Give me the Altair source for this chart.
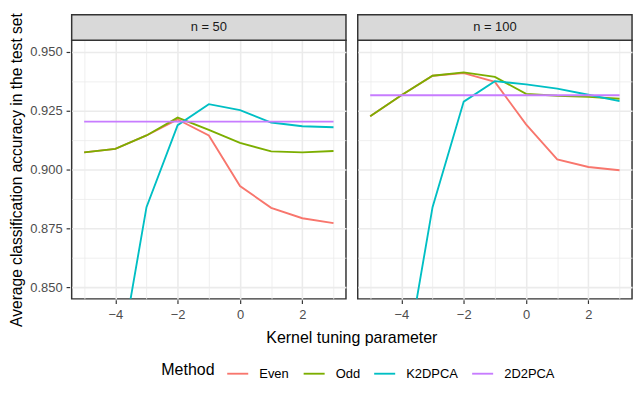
import altair as alt
import pandas as pd

x_vals = [-5, -4, -3, -2, -1, 0, 1, 2, 3]
panels = ["n = 50", "n = 100"]
methods = ["Even", "Odd", "K2DPCA", "2D2PCA"]
colors = ["#F8766D", "#7CAE00", "#00BFC4", "#C77CFF"]

even_50 = [0.9073, 0.9088, 0.9145, 0.9213, 0.9145, 0.8930, 0.8837, 0.8793, 0.8772]
odd_50 = [0.9073, 0.9088, 0.9145, 0.9221, 0.9169, 0.9113, 0.9077, 0.9073, 0.9079]
k2dpca_50 = [0.7000, 0.8075, 0.8840, 0.9189, 0.9278, 0.9253, 0.9200, 0.9184, 0.9180]
pca_50 = [0.9204, 0.9204, 0.9204, 0.9204, 0.9204, 0.9204, 0.9204, 0.9204, 0.9204]

even_100 = [0.9227, 0.9316, 0.9399, 0.9410, 0.9373, 0.9192, 0.9043, 0.9011, 0.8997]
odd_100 = [0.9227, 0.9316, 0.9399, 0.9413, 0.9394, 0.9322, 0.9314, 0.9309, 0.9301]
k2dpca_100 = [0.7000, 0.8068, 0.8840, 0.9289, 0.9376, 0.9362, 0.9344, 0.9318, 0.9291]
pca_100 = [0.9316, 0.9316, 0.9316, 0.9316, 0.9316, 0.9316, 0.9316, 0.9316, 0.9316]

x_ticks = [-5, -4, -3, -2, -1, 0, 1, 2, 3]
y_ticks = [0.85, 0.8625, 0.875, 0.8875, 0.9, 0.9125, 0.925, 0.9375, 0.95]

series = {
    ("n = 50", "Even"): even_50, ("n = 50", "Odd"): odd_50,
    ("n = 50", "K2DPCA"): k2dpca_50, ("n = 50", "2D2PCA"): pca_50,
    ("n = 100", "Even"): even_100, ("n = 100", "Odd"): odd_100,
    ("n = 100", "K2DPCA"): k2dpca_100, ("n = 100", "2D2PCA"): pca_100,
}
rows = []
for p in panels:
    for mi, m in enumerate(methods):
        for xv, yv in zip(x_vals, series[(p, m)]):
            rows.append({"panel": p, "Method": m, "order": mi, "x": xv, "value": yv})
df = pd.DataFrame(rows)

W, H = 280, 264
FONT = "Liberation Sans"
SMALL = 13.2
BIG = 16.3
YTITLE = 15.9

x_major = "datum.value % 2 == 0"
y_major = "abs(round(datum.value * 40) - datum.value * 40) < 0.01"

x_enc = alt.X("x:Q", scale=alt.Scale(domain=[-5.4, 3.4], nice=False, zero=False),
              axis=alt.Axis(values=x_ticks, format="d",
                            labelExpr=f"{x_major} ? datum.label : ''",
                            title=None, labelPadding=5,
                            tickColor={"condition": {"test": x_major, "value": "#333333"}, "value": "transparent"},
                            gridWidth={"condition": {"test": x_major, "value": 1.6}, "value": 0.8}))
y_enc = alt.Y("value:Q", scale=alt.Scale(domain=[0.845, 0.955], nice=False, zero=False),
              axis=alt.Axis(values=y_ticks, format=".3f",
                            labelExpr=f"{y_major} ? datum.label : ''",
                            title="Average classification accuracy in the test set",
                            titleFontSize=YTITLE,
                            labelPadding=4, titlePadding=6,
                            tickColor={"condition": {"test": y_major, "value": "#333333"}, "value": "transparent"},
                            gridWidth={"condition": {"test": y_major, "value": 1.6}, "value": 0.8}))

base = alt.Chart()

lines = base.mark_line(clip=True, strokeWidth=1.9).encode(
    x=x_enc, y=y_enc,
    color=alt.Color("Method:N", scale=alt.Scale(domain=methods, range=colors),
                    legend=alt.Legend(orient="none", legendX=91.5, legendY=328,
                                      direction="horizontal", titleOrient="left",
                                      symbolType="stroke", symbolStrokeWidth=1.9, symbolSize=460,
                                      labelFontSize=SMALL, titleFontSize=BIG, labelColor="#000000",
                                      titleColor="#000000", titleFontWeight="normal",
                                      labelOffset=10, columnPadding=10, titlePadding=11)),
    order=alt.Order("order:Q"),
    detail="Method:N",
)

strip_rect = base.mark_rect(fill="#D9D9D9", stroke="#333333", strokeWidth=1.5).encode(
    x=alt.value(0), x2=alt.value(W), y=alt.value(-26), y2=alt.value(0)
).transform_filter("datum.Method == '2D2PCA' && datum.x == -5")

strip_text = base.mark_text(fontSize=SMALL, color="#1A1A1A", font=FONT, baseline="middle", align="center").encode(
    x=alt.value(W / 2), y=alt.value(-13), text="panel:N"
).transform_filter("datum.Method == '2D2PCA' && datum.x == -5")

layered = alt.layer(strip_rect, strip_text, lines, data=df).properties(width=W, height=H)

chart = layered.facet(
    column=alt.Column("panel:N", sort=panels, title="Kernel tuning parameter",
                      header=alt.Header(labels=False, titleOrient="bottom", titleFont=FONT,
                                        titleFontSize=BIG, titleColor="#000000",
                                        titleFontWeight="normal", titlePadding=0)),
    spacing=8,
).properties(
    padding={"left": 0, "top": 0, "right": 0, "bottom": 0}
).configure_view(
    stroke="#333333", strokeWidth=1.5
).configure_axis(
    labelFont=FONT, titleFont=FONT, labelFontSize=SMALL, titleFontSize=BIG,
    labelColor="#4D4D4D", titleColor="#000000", titleFontWeight="normal",
    gridColor="#EBEBEB", domain=False, tickSize=3.7, tickWidth=1.2
).configure_legend(
    labelFont=FONT, titleFont=FONT
)

chart.save("out.html", embed_options={"renderer": "svg", "actions": False})
